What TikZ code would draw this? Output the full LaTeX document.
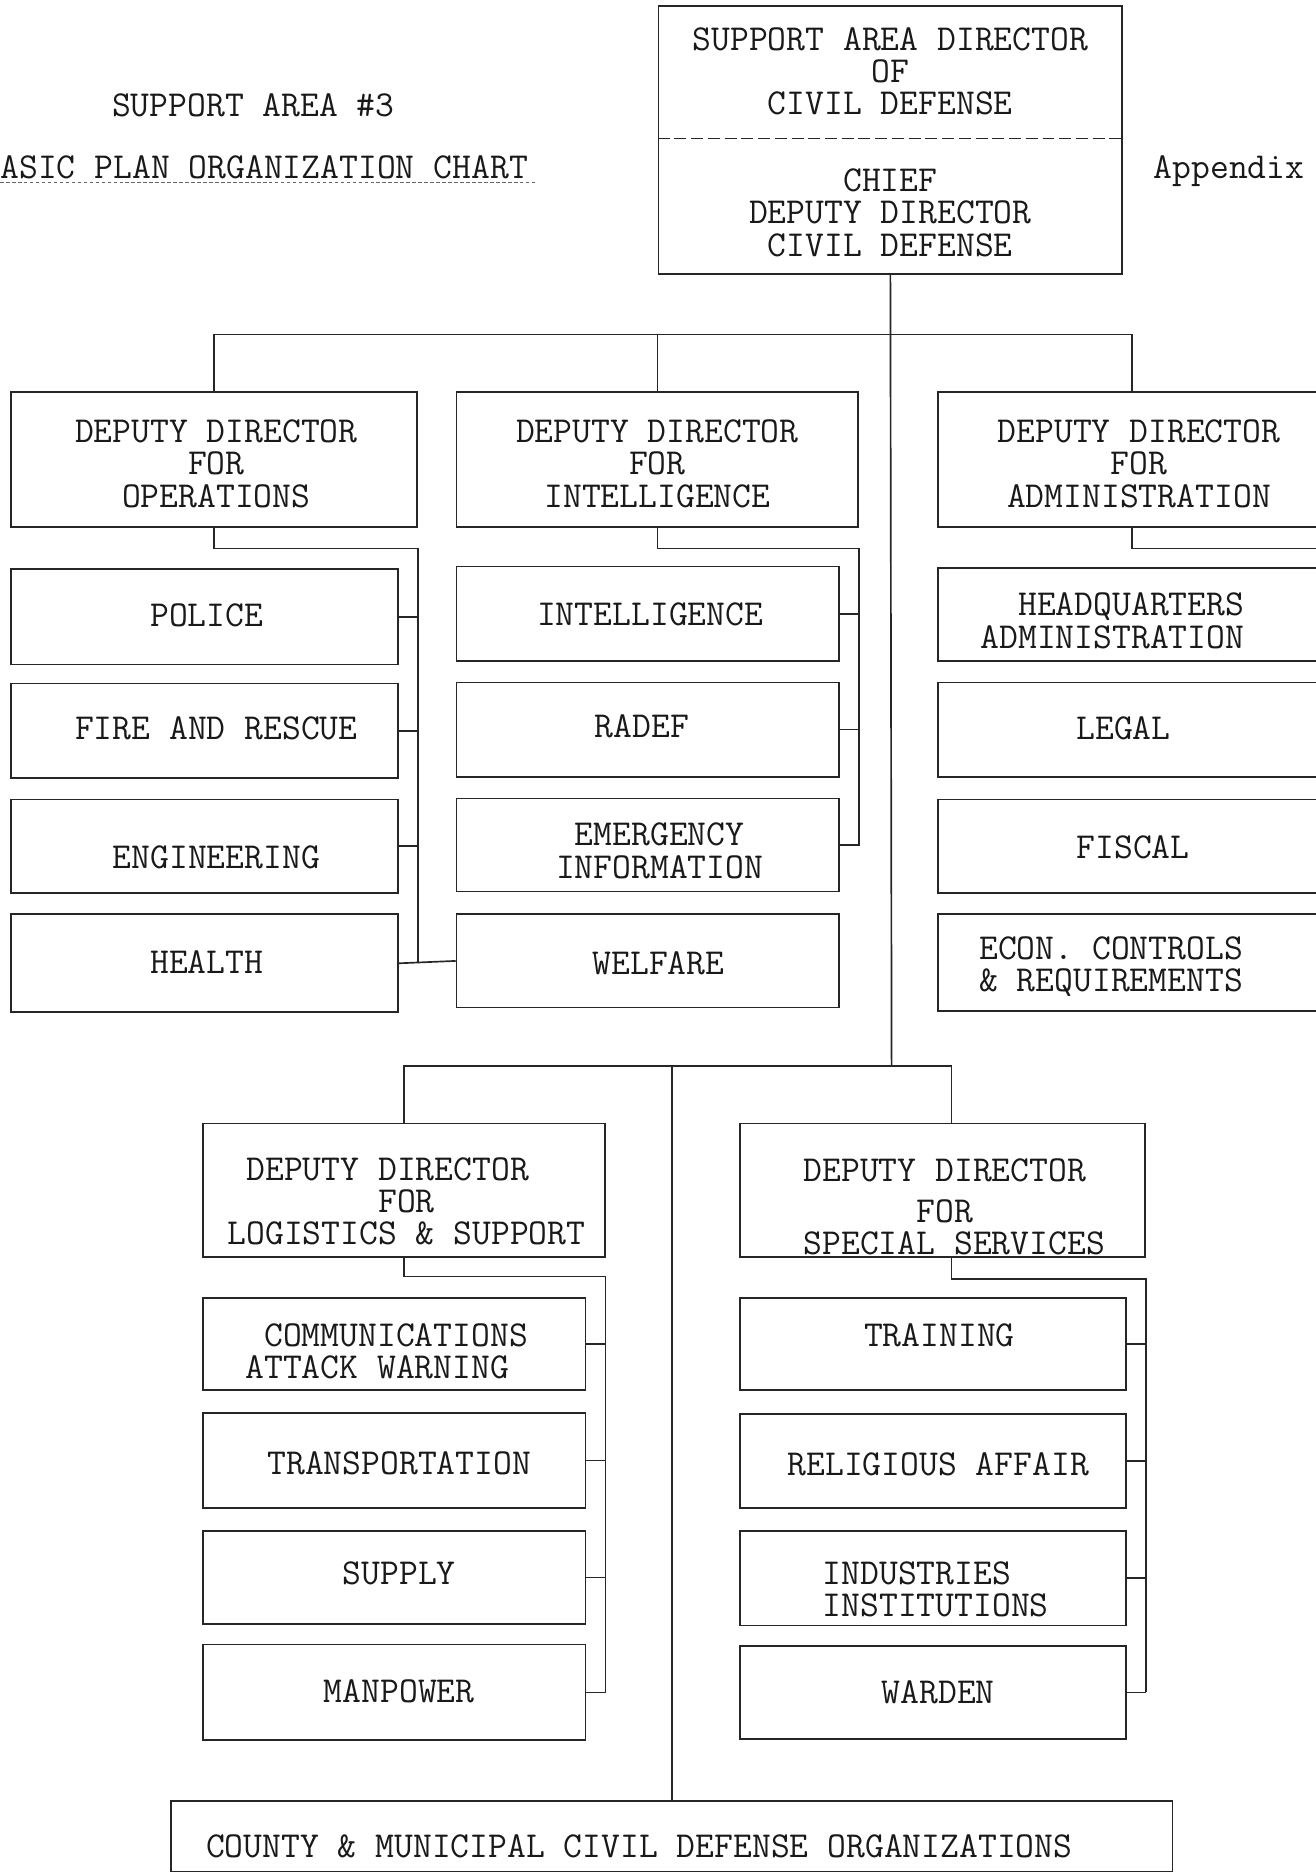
\documentclass[tikz,border=0pt]{standalone}
\usepackage{fontspec}
\begin{document}
\begin{tikzpicture}[x=0.5pt,y=-0.5pt,
  box/.style={draw=black!85,line width=0.7pt,rectangle,inner sep=0pt},
  wire/.style={draw=black!85,line width=0.7pt},
  lbl/.style={font=\ttfamily\fontsize{15.3}{13.5}\selectfont,inner sep=0pt,align=center,text=black!90},
  lbll/.style={lbl,align=left,anchor=west}]
\useasboundingbox (0,0) rectangle (1101,1568);
\clip (0,0) rectangle (1101,1568);
% box with corners (x1,y1) and (x2,y2)
\newcommand\orgbox[5]{%
  \pgfmathsetmacro\bw{(#4-#2)*0.5}\pgfmathsetmacro\bh{(#5-#3)*0.5}%
  \node[box,minimum width=\bw pt,minimum height=\bh pt] (#1) at ({(#2+#4)/2},{(#3+#5)/2}) {};}

% headings
\node[lbl] (title) at (212,88) {SUPPORT AREA \#3};
\node[lbl,anchor=base west] (plan) at (0,149) {ASIC PLAN ORGANIZATION CHART};
\coordinate (ulA) at (0,153);
\coordinate (ulB) at (448,153);
\draw[black!60,line width=0.5pt,dash pattern=on 1.5pt off 1pt] (ulA) -- (ulB);
\node[lbl,anchor=base west] (appx) at (965,149) {Appendix};

% top office
\orgbox{sad}{551}{5}{939}{229}
\draw[wire,dash pattern=on 5pt off 2pt] (sad.west |- 0,116) -- (sad.east |- 0,116);
\node[lbl] (sadA) at (745,59.5) {SUPPORT AREA DIRECTOR\\OF\\CIVIL DEFENSE};
\node[lbl] (sadB) at (745,178) {CHIEF\\DEPUTY DIRECTOR\\CIVIL DEFENSE};

% deputy directors, upper row
\orgbox{ops}{9}{328}{349}{441}
\orgbox{int}{382}{328}{718}{441}
\orgbox{adm}{785}{328}{1125}{441}
\node[lbl] (opsT) at (181,388) {DEPUTY DIRECTOR\\FOR\\OPERATIONS};
\node[lbl] (intT) at (550,388) {DEPUTY DIRECTOR\\FOR\\INTELLIGENCE};
\node[lbl] (admT) at (953,388) {DEPUTY DIRECTOR\\FOR\\ADMINISTRATION};

% operations services
\orgbox{police}{9}{476}{333}{556}
\orgbox{fire}{9}{572}{333}{651}
\orgbox{eng}{9}{669}{333}{747}
\orgbox{health}{9}{765}{333}{847}
\node[lbl] (policeT) at (173,515) {POLICE};
\node[lbl] (fireT) at (181,609) {FIRE AND RESCUE};
\node[lbl] (engT) at (181,717) {ENGINEERING};
\node[lbl] (healthT) at (173,805) {HEALTH};

% intelligence services
\orgbox{intell}{382}{474}{702}{553}
\orgbox{radef}{382}{571}{702}{650}
\orgbox{emerg}{382}{668}{702}{746}
\orgbox{welfare}{382}{765}{702}{843}
\node[lbl] (intellT) at (544,514) {INTELLIGENCE};
\node[lbl] (radefT) at (537,608) {RADEF};
\node[lbl] (emergT) at (552,712) {EMERGENCY\\INFORMATION};
\node[lbl] (welfareT) at (551,806) {WELFARE};

% administration services
\orgbox{hq}{785}{475}{1109}{553}
\orgbox{legal}{785}{571}{1109}{650}
\orgbox{fiscal}{785}{669}{1109}{747}
\orgbox{econ}{785}{765}{1109}{846}
\node[lbll] (hqT) at (820,519.5) {\hphantom{XX}HEADQUARTERS\\ADMINISTRATION};
\node[lbl] (legalT) at (940,609) {LEGAL};
\node[lbl] (fiscalT) at (948,709) {FISCAL};
\node[lbll] (econT) at (819,809) {ECON. CONTROLS\\\& REQUIREMENTS};

% deputy directors, lower row
\orgbox{log}{170}{940}{506}{1052}
\orgbox{spec}{619}{940}{958}{1052}
\node[lbll] (logT) at (190,1005) {\hphantom{X}DEPUTY DIRECTOR\\\hphantom{XXXXXXXX}FOR\\LOGISTICS \& SUPPORT};
\node[lbll] (specT) at (672,1010) {DEPUTY DIRECTOR\\[3.5pt]\hphantom{XXXXXX}FOR\\SPECIAL SERVICES};

% logistics services
\orgbox{comm}{170}{1086}{490}{1163}
\orgbox{trans}{170}{1182}{490}{1262}
\orgbox{supply}{170}{1281}{490}{1359}
\orgbox{manp}{170}{1376}{490}{1456}
\node[lbll] (commT) at (205,1130.5) {\hphantom{X}COMMUNICATIONS\\ATTACK WARNING};
\node[lbl] (transT) at (334,1224) {TRANSPORTATION};
\node[lbl] (supplyT) at (334,1316) {SUPPLY};
\node[lbl] (manpT) at (334,1415) {MANPOWER};

% special services
\orgbox{training}{619}{1086}{942}{1163}
\orgbox{relig}{619}{1183}{942}{1262}
\orgbox{indus}{619}{1281}{942}{1360}
\orgbox{warden}{619}{1377}{942}{1455}
\node[lbl] (trainingT) at (786,1117) {TRAINING};
\node[lbl] (religT) at (785,1225) {RELIGIOUS AFFAIR};
\node[lbll] (indusT) at (688,1329.5) {INDUSTRIES\\INSTITUTIONS};
\node[lbl] (wardenT) at (785,1416) {WARDEN};

% local organizations
\orgbox{county}{143}{1507}{981}{1566}
\node[lbll] (countyT) at (172,1545) {COUNTY \& MUNICIPAL CIVIL DEFENSE ORGANIZATIONS};

% main trunk and buses
\coordinate (busA) at (746,280);
\coordinate (busB) at (746,892);
\coordinate (admN) at ([xshift=-4pt]adm.north);
\coordinate (admS) at ([xshift=-4pt]adm.south);
\coordinate (specN) at ([xshift=3.75pt]spec.north);
\coordinate (specS) at ([xshift=3.75pt]spec.south);
\draw[wire] (sad.south) -- (busB);
\draw[wire] (ops.north) -- (ops.north |- busA) -- (admN |- busA) -- (admN);
\draw[wire] (int.north) -- (int.north |- busA);
\draw[wire] (log.north) -- (log.north |- busB) -- (specN |- busB) -- (specN);
\draw[wire] (county.north) -- (county.north |- busB);

% operations bracket
\coordinate (opsK) at (ops.east |- 0,459);
\draw[wire] (ops.south) |- (opsK) -- (opsK |- health.east);
\foreach \n in {police,fire,eng} \draw[wire] (\n.east) -- (\n.east -| opsK);
\draw[wire] (health.east) -- (welfare.west);

% intelligence bracket
\coordinate (intK) at (int.east |- 0,459);
\draw[wire] (int.south) |- (intK) -- (intK |- emerg.east) -- (emerg.east);
\foreach \n in {intell,radef} \draw[wire] (\n.east) -- (\n.east -| intK);

% administration bracket
\coordinate (admK) at (adm.east |- 0,459);
\draw[wire] (admS) |- (admK) -- (admK |- econ.east);
\foreach \n in {hq,legal,fiscal,econ} \draw[wire] (\n.east) -- (\n.east -| admK);

% logistics bracket
\coordinate (logK) at (log.east |- 0,1068);
\draw[wire] (log.south) |- (logK) -- (logK |- manp.east);
\foreach \n in {comm,trans,supply,manp} \draw[wire] (\n.east) -- (\n.east -| logK);

% special services bracket
\coordinate (specK) at (spec.east |- 0,1070);
\draw[wire] (specS) |- (specK) -- (specK |- warden.east);
\foreach \n in {training,relig,indus,warden} \draw[wire] (\n.east) -- (\n.east -| specK);
\end{tikzpicture}
\end{document}
